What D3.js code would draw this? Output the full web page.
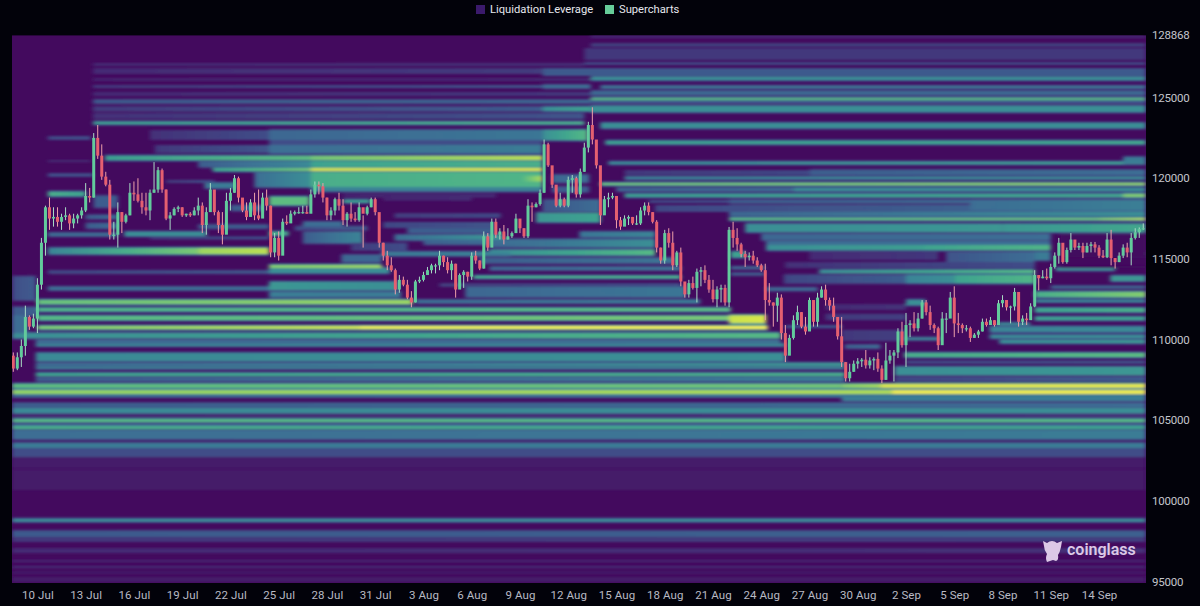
<!DOCTYPE html>
<html><head><meta charset="utf-8">
<script src="https://cdn.jsdelivr.net/npm/d3@7/dist/d3.min.js"></script>
<style>html,body{margin:0;padding:0;background:#02020a;overflow:hidden}svg{display:block}text{font-family:"Roboto","Noto Sans",sans-serif}</style>
</head><body><svg id="c" width="1200" height="606"></svg>
<script>
const legendLabels = ["Liquidation Leverage","Supercharts"];
const priceTicks = [95,100,105,110,115,120,125,128.868];
const dateTicks = [0,3,6,9,12,15,18,21,24,27,30,33,36,39,42,45,48,51,54,57,60,63,66];
const levelStops = ["#430a5e","#452a74","#404d88","#3c6e94","#3a8a96","#3ea38f","#56b985","#7bc973","#a4d85c","#d2e34b","#f4ec54"];

// bands: [top price k, bottom price k, start day, end day (days from 10 Jul), level at start, level at end]
const topBands = [
[128.85,128.7,34.4,68.9,.1,.1],[128.38,128.14,34.4,68.9,.15,.15],[128.07,127.33,34,68.9,.14,.14],[127.21,127.02,34,68.9,.18,.18],
[127.14,126.96,3.46,34,.1,.12],[126.83,126.46,3.46,31.4,.1,.15],[126.83,126.34,31.4,68.9,.24,.24],
[126.21,126.03,3.46,34.4,.08,.1],[126.28,126.09,34.4,68.9,.42,.42],[125.78,125.59,3.46,31.4,.14,.22],[125.78,125.59,31.4,34.4,.3,.3],[125.72,125.59,35,68.9,.34,.34],
[125.35,125.1,3.46,34.4,.1,.14],[125.41,125.16,34.4,68.9,.28,.28],[124.97,124.85,34.4,68.9,.62,.62],[124.85,124.66,3.46,34.4,.24,.28],[124.85,124.66,34.4,68.9,.25,.25],
[124.42,124.17,3.46,31.4,.15,.25],[124.42,124.17,31.4,34.4,.42,.5],[124.48,124.11,34.4,68.9,.42,.42],[124.04,123.67,3.46,34,.12,.22],
[123.49,123.36,3.46,34,.5,.58],[123.42,123.11,35,68.9,.42,.42],[122.31,122.12,35.3,68.9,.48,.52],[121.01,120.88,35.5,68.9,.42,.5],
[120.51,120.2,36.5,48,.14,.18],[120.51,120.2,48,68.9,.25,.3],[120.08,119.95,36.5,68.9,.38,.42],[119.7,119.58,35,68.9,.68,.78],[119.39,119.21,36,47,.28,.3],[119.39,119.21,47,68.9,.42,.42],[119.02,118.84,36.5,68.9,.48,.52],
[118.65,118.46,38,43,.18,.2],[118.65,118.46,43,68.9,.25,.3],[118.34,117.91,38.4,43,.18,.2],[118.34,117.91,43,68.9,.2,.3],
[121.3,120.9,67.5,68.9,.35,.35],[119.02,118.84,67.5,68.9,.72,.72],[118.65,118.03,58,68.9,.3,.36]
];
const leftBlockBands = [
[122.99,122.37,7,14.4,.12,.2],[122.99,122.37,14.4,31.4,.28,.33],[122.99,122.37,31.4,34.2,.42,.6],
[122.37,122.06,14.4,31.4,.2,.2],[122.06,121.56,7.3,14.4,.14,.22],[122.06,121.56,14.4,31.4,.3,.35],[121.56,121.38,14.4,31.4,.18,.2],
[121.38,121.13,4.2,17,.48,.62],[121.38,121.13,17,31.4,.68,.85],
[121.07,120.7,10,17,.25,.4],[121.07,120.7,17,31.4,.5,.55],
[120.63,120.45,10.9,17,.5,.68],[120.63,120.45,17,31.4,.9,.92],
[120.39,119.46,13.5,17,.3,.42],[120.39,119.46,17,31.4,.55,.58],[120.14,119.8,30.2,31.4,.6,.82],
[119.46,119.2,17,31.4,.38,.38],[119.05,118.8,19,28.5,.08,.1],
[122.62,122.37,.65,3.3,.18,.2],[121.13,121,.65,3.3,.1,.1],[120.32,120.08,.65,3.46,.2,.2],[119.15,118.9,.65,3,.55,.5],
[116.6,116.42,.65,5,.3,.3],[116.67,116.42,5.4,10.5,.42,.42],
[115.67,115.3,.65,10,.38,.7],[115.67,115.3,10,14.4,.78,.85],[114.25,114.12,.65,14.4,.2,.25],[113.26,113.07,.65,14.4,.3,.3],
[118.9,118.2,3.5,5,.25,.25],[117.7,117.5,3,5,.25,.3],[117.2,116.9,3,5,.25,.3],[116.4,116.2,7,14.4,.15,.2],[119.9,119.7,8,11,.14,.2],[117.1,116.9,10,14.4,.25,.25],[118.3,118,12,14,.25,.25],[119.7,119.39,10.4,12.3,.35,.35]
];
const midBands = [
[114.62,114.43,14.4,21.4,.72,.78],[114.43,114.12,14.4,21.9,.42,.42],[113.57,113.07,14.4,22.4,.45,.42],[112.95,112.64,14.4,22.6,.36,.35],
[118.84,118.34,14.4,16.9,.62,.62],[116.67,116.48,14.4,15.6,.55,.55],[116.3,116.1,19,20.2,.55,.55],[118.65,118.5,19,20.7,.5,.5],
[117.29,116.91,16.5,19,.3,.3],[116.67,115.98,16.5,20.2,.25,.38],[115.24,114.81,18.9,21.4,.28,.28],
[112.45,112.2,0,23.3,.65,.78],[111.95,111.76,0,43.1,.58,.62],[111.46,111.21,0,43,.6,.7],[111.5,111.02,43,45.3,.88,.92],
[110.84,110.65,0,20,.7,.9],[110.84,110.65,20,45.4,.97,1],[110.4,110.09,-1.58,46.2,.42,.6],[109.97,109.75,-.1,46.2,.3,.32],
[113.9,112.45,-1.58,-.1,.2,.25],[111.7,110.4,-1.58,-.6,.3,.3],[112,111.5,-1.58,0,.25,.25],
[116.67,116.36,33.7,38.4,.33,.38],[116.2,115.74,28.1,38.4,.28,.42],[115.55,115.24,28.1,38.4,.42,.6],[115.05,114.74,27.5,39.6,.25,.32],[114.5,114.31,28.1,40,.28,.32],
[113.94,113.81,27.1,40,.55,.58],[113.5,113.26,25,40,.15,.2],[113.26,112.64,26.6,40.3,.28,.33],[112.45,112.26,23.5,41.2,.3,.35],
[117.84,117.29,31,35,.45,.5],[118.65,117.91,31.4,35,.22,.3],[120.2,119.75,32,34.3,.28,.3],[119.46,119.15,32,34.3,.25,.25],
[117.84,117.53,22.2,28.8,.15,.18],[117.29,116.91,21.5,28.4,.18,.22],[116.91,116.6,23,28.4,.25,.25],[116.48,116.17,22.2,29,.3,.45],[116.2,115.9,24,30.6,.26,.32],[115.43,115.2,21.4,29.4,.35,.38],[117,116.8,16,20.5,.2,.25],[116,115.5,19.5,23,.15,.2],[118.9,118.6,21.5,27,.08,.1]
];
const rightBands = [
[117.91,117.66,43,68.9,.28,.42],[117.53,117.41,43,66,.62,.68],[117.53,117.41,66,68.9,.72,.85],[117.16,116.67,44,60,.42,.45],[117.16,116.67,60,68.9,.45,.52],
[116.55,116.17,45,63,.28,.3],[116.11,115.86,45.3,63,.3,.3],[115.86,115.55,45.3,55,.42,.48],[115.86,115.55,55,63,.5,.58],[115.43,114.93,48,56,.1,.14],[115.43,114.62,56.5,62,.22,.3],[115.43,114.93,62,63,.35,.35],[114.81,114.43,46.5,62,.12,.2],
[114.31,114.12,48.6,62,.42,.6],[114,113.5,46.4,54,.18,.25],[114,113.5,54,57,.38,.42],[114,113.5,57,62,.5,.58],[113.2,113.05,45.3,48.5,.3,.3],
[112.95,112.64,62,68.9,.55,.72],[112.45,112.33,62,68.9,.4,.4],[111.95,111.71,62,68.9,.5,.55],[111.4,111.21,62,68.9,.5,.5],
[110.8,110.47,59.2,68.9,.38,.4],[110.28,110.09,59.2,68.9,.4,.42],[109.97,109.78,59.8,68.9,.42,.45],
[114.43,114.3,63.3,67,.45,.45],[113.94,113.63,66.7,68.9,.45,.45],[115.43,115.2,67.9,68.9,.45,.45],[113.3,113.2,63,68.9,.3,.3],
[115.43,115.1,43.1,44,.5,.5],[114.5,114.4,43.1,45.2,.3,.3],[114.12,114,43.1,45.2,.25,.25],
[112.45,112.14,54,55.2,.42,.42],[110.1,110,54,56.1,.42,.42],[111.02,110.9,59.7,61.7,.42,.42],[112.2,111.83,49,54,.1,.12],[111.6,111.2,49,54,.14,.16],[110.9,110.7,46.5,50,.2,.22],[110.6,109.9,50,54,.14,.16],[109.66,109.47,50.2,52.4,.26,.3]
];
const lowerBands = [
[109.72,109.6,-.1,46.5,.4,.42],[109.16,108.67,-.1,46.5,.4,.42],[108.54,108.36,-.1,50.2,.3,.45],[108.3,108.2,-.1,50.2,.4,.42],[107.92,107.74,-.1,50.2,.5,.55],[107.68,107.43,-.1,50.2,.25,.35],
[109.16,108.92,53.9,68.9,.55,.62],[108.7,108.5,54,68.9,.2,.22],[108.3,107.8,53.3,68.9,.42,.45],[107.68,107.43,53.3,68.9,.18,.25],
[107.24,107,-1.58,50,.62,.68],[107.24,107,50,52.4,.72,.8],[107.24,107,52.4,68.9,.92,.96],[107,106.87,-1.58,68.9,.35,.4],
[106.87,106.62,-1.58,53.1,.75,.82],[106.87,106.62,53.1,68.9,.97,.97],[106.62,106.44,-1.58,68.9,.3,.35],[106.44,106.19,50,68.9,.35,.35],
[106.06,105.81,-1.58,68.9,.25,.3],[105.75,105.44,-1.58,68.9,.4,.42],[105.38,105.2,-1.58,68.9,.08,.12],[105.07,104.89,-1.58,68.9,.6,.6],
[104.76,104.64,-1.58,68.9,.3,.3],[104.64,104.45,-1.58,68.9,.55,.5],[104.39,103.83,-1.58,68.9,.3,.35],[103.58,103.27,-1.58,68.9,.35,.35],
[103.27,102.72,-1.58,68.9,.2,.2],[102.72,102.03,-1.58,68.9,.06,.06],[101.97,100.67,-1.58,68.9,.05,.05],[98.87,98.72,-1.58,68.9,.42,.42],
[98.13,97.76,-1.58,68.9,.24,.26],[97.69,97.45,-1.58,68.9,.14,.16],[97.07,96.76,-1.58,68.9,.1,.12],[96.33,96.21,-1.58,68.9,.1,.1],
[95.96,95.83,-1.58,68.9,.1,.1],[95.59,95.52,-1.58,68.9,.1,.1],[95.28,94.97,-1.58,68.9,.05,.05]
];

// six-hour candles: [high, low, close] in thousand USD; each opens at the previous close
const firstOpen = 109.0;
const julyCandles = [
[109.2,108,108.2],[109.2,108.1,108.9],[110,108.3,109.6],[112.1,109,111.4],[111.5,110.6,110.8],[111.6,110.7,111.3],[113.8,110.4,113.4],[116.3,113.1,116],[118.3,115.2,118.2],
[118.8,116.8,117.5],[118.2,117,117.6],[118.2,117,117.3],[117.8,116.8,117.6],[118.2,117.4,117.7],[117.8,116.8,117.2],[117.8,116.9,117.5],[117.8,117.2,117.7],[118.2,117.5,118],
[119.7,117.9,118.9],[119.4,118.5,118.8],[122.8,118.8,122.5],[123.3,121.2,121.4],[122.1,119.9,120.1],[120.4,119.5,119.6],[119.9,116.2,116.5],[117.3,116.2,116.5],[118.5,115.7,117.9],
[117.9,116.6,117.3],[117.8,117.2,117.7],[119.7,117.7,119.1],[119.8,118.6,119],[120,118.5,118.6],[119.1,117.8,118.2],[119.1,117.7,118],[119.3,117.4,119.1],[121,119.1,119.3],
[120.7,119.1,120.5],[120.6,119.1,119.3],[119.3,117.4,117.5],[117.9,116.8,117.7],[118.2,117.7,118.1],[118.3,117.9,118.2],[118.2,117.6,117.7],[117.8,117.6,117.8],[117.9,117.6,117.7],
[118.2,117.7,118],[118.8,117.7,118.3],[118.5,116.6,117.1],[118.2,116.5,117.9],[119.7,118,119.3],[119.1,117.7,117.9],[118,116.6,117.1],[117.9,115.9,116.5],[119.1,117.2,118.6],
[119.4,118,119.1],[120.2,119.1,120],[120.1,118.5,118.8],[118.7,117.9,118],[118.5,117.4,117.6],[118.7,117.8,118.5],[119.1,117.4,117.7],[119.3,117.4,117.5],[119.1,117.8,118.8],
[119.3,118,118.3],[118.3,115.1,115.4],[116.6,115.1,116.3],[116.7,114.9,115.2],[117.5,116,117.3],[117.7,117.1,117.2],[118,117.3,117.8],[118,117.7,117.9],[118.2,117.8,117.9],
[118.3,117.8,117.9],[118.3,117.8,117.8],[119.3,117.9,119],[119.8,118.8,119.6],[119.8,119,119.5],[119.7,118.5,118.8],[118.8,117.4,117.7],[118.2,117.4,118],[118.8,117.7,118.7],
[119.1,118,118.3],[118.7,117.1,117.4],[117.9,117,117.8],[118.5,117.3,117.5],[117.9,117.3,117.4],[118.5,117.3,118.2],[117.7,115.7,117.8],[118.3,117.7,118.2],[118.8,118.2,118.7],
[118.8,117.7,117.9],[117.8,115.7,116],[116,114.9,115.2],[115.5,114.3,114.6],[115.1,114.2,114.3],[114.4,112.8,113.1],[114,112.9,113.7]
];
const augustCandles = [
[113.9,113.3,113.4],[113.7,112.5,112.6],[113,112,112.3],[113.7,112.3,113.6],[113.9,113.5,113.7],[114.2,113.6,114],[114.5,114,114.3],[114.7,114.1,114.6],[114.7,114.1,114.6],
[115.5,114.3,115.2],[115.2,114.5,114.8],[115.1,114.1,114.3],[114.9,113.7,114.7],[114.7,112.6,113.1],[114.1,113.2,114],[114.3,113.2,114.2],[114.2,113.6,113.9],[115.4,113.7,115.2],
[115.5,114.7,114.9],[114.9,114.3,114.4],[116.7,114.4,116.4],[116.6,115.5,115.7],[117.5,116.2,117.3],[117.5,116.3,116.5],[116.9,116.2,116.7],[117.1,115.9,116.2],[116.9,116.2,116.4],
[116.7,116.3,116.6],[117.8,116.6,117.5],[117.1,116.6,116.9],[116.9,116.3,116.4],[118.7,116.3,118.3],[118.5,117.3,118.2],[118.5,118.2,118.4],[119.3,118.3,119.1],[122.4,119.1,122.1],
[122.2,120.7,120.8],[120.6,119.4,119.6],[119.5,118.2,118.3],[119.1,118.2,118.7],[118.8,118.2,118.3],[120.1,118.2,119.9],[120.2,119.1,120],[120.1,118.8,119],[120.6,118.8,120.4],
[122.2,120.4,121.9],[123.5,121.6,123.3],[124.4,122.1,122.4],[122.2,120.6,120.8],[120.4,117.1,117.7],[118.9,117.8,118.7],[119.1,118.2,118.8],[119.1,118.7,118.9],[118.9,116.9,117.4],
[117.6,116.8,117],[117.7,117.1,117.5],[117.7,117.1,117.6],[117.6,117.1,117.2],[117.7,117.1,117.2],[118.2,117.1,118],[118.5,117.7,118.3],[118.5,117.7,117.9],[117.9,117.2,117.3],
[117.4,115.4,115.7],[115.7,114.7,114.9],[116.8,114.7,116.6],[116.9,115.7,116],[116.7,114.3,114.6],[115.5,114.5,115.4],[115.7,113.3,113.6],[113.5,112.6,112.8],[113.7,112.6,113.5],
[113.9,113.1,113.2],[114.4,112.3,114.2],[114.5,113.3,114.3],[114.6,113.5,113.7],[114,112.9,113.1],[113.7,112.3,112.5],[113.3,112,113.1],[113.4,112.3,113.2],[113.4,112.1,112.3],
[116.98,112,116.8],[117.3,115.7,116.3],[116.9,115.5,115.9],[116,115.1,115.3],[115.5,114.5,115.1],[115.4,114.9,115.2],[115.5,114.7,114.9],[115.1,114.5,114.6],[114.7,114.2,114.3],
[114.7,111.2,112.45],[113.5,112.1,112.3],[112.3,110.8,112.1],[112.9,111.1,112.6],[112.8,110,110.4],[110.9,108.6,109],[110.3,109.35,110.1],[111.5,110,111.2],[112.1,110.9,111.7],
[111.7,110.7,110.8],[111.4,110.3,110.5],[112.6,110.9,112.45],[112.3,110.8,111.1],[112.9,110.8,112.6],[113.3,112.6,113.1],[113.4,112.1,112.45],[112.6,111.8,112.1],[112.6,111.1,111.4],
[111.3,110,110.2],[111.4,108.3,108.6],[108.6,107.4,107.6],[108.5,107.4,108],[108.7,108,108.5],[108.85,108.2,108.65]
];
const septemberCandles = [
[108.85,108.3,108.75],[109.35,108.2,108.4],[108.9,108.2,108.7],[108.9,108.1,108.8],[109.2,108,108.2],[108.4,107.3,107.5],[109.8,107.5,108.7],[109.35,108.5,109],[109.35,107.4,109.2],
[110.7,108.85,110.5],[111.1,109.5,109.65],[111.65,108.3,110.9],[111.2,110.15,111],[111.7,110.5,110.7],[111.65,110.5,111.3],[112.45,111.3,112.3],[112.45,111.5,111.7],[112.1,110.6,110.9],
[111,110.4,110.7],[110.8,109.35,109.65],[111.7,109.8,111.3],[111.65,110.4,111.3],[112.95,111.4,112.6],[113.3,110.15,111],[111.65,110.4,110.9],[111,110.4,110.7],[110.9,110.5,110.7],
[110.8,109.85,110.1],[110.4,110.1,110.3],[110.6,110.1,110.5],[111.3,110.5,111.1],[111.3,110.8,110.9],[111.4,110.9,111.2],[111.2,110.8,110.9],[112.45,110.9,112.25],[112.75,112,112.45],
[112.25,111.8,112],[112.1,111,112.05],[113.2,111.8,112.95],[112.9,110.8,111.1],[111.5,110.9,111.3],[111.65,110.9,111.2],[112.25,111.4,112.05],[114.3,112,114],[114,113.05,113.8],
[114.3,113.8,113.9],[114.4,113.7,113.8],[114.7,113.5,114.5],[115.4,114.4,115.2],[116.3,114.7,116],[115.7,114.7,114.8],[115.7,114.7,115.55],[116.6,115.4,116.2],[116.05,115.55,115.7],
[116,115.55,115.8],[116,115.05,115.4],[116,115.4,115.8],[116.05,115.4,115.9],[116.05,115.4,115.7],[115.85,115.05,115.2],[115.55,115.05,115.1],[116.6,115.05,116.2],[116.8,114.6,115.05],
[115.05,114.4,114.8],[115.4,114.8,115.2],[115.9,115.05,115.7],[116,115.1,115.4],[116.6,114.6,116.3],[116.9,116.2,116.65],[116.95,116.3,116.85],[117.2,116.8,116.9]
];
// dark zones the price has cleared on the right: [top k, bottom k, start day, end day]
const clearedZones = [[116.55,115.1,63.6,68.9],[114.6,114.43,63.6,68.9]];

const candleStartDay = -1.5, candleStepDays = 0.25;
const toDate = d => new Date(Date.UTC(2025,6,10) + d*864e5);
const svg = d3.select("#c");
const x = d3.scaleUtc().domain([toDate(-1.58),toDate(68.92)]).range([12,1146]);
const y = d3.scaleLinear().domain([94.9,128.868]).range([583.1,35.2]);
const level = d3.scaleLinear().domain(d3.range(0,1.01,.1)).range(levelStops).interpolate(d3.interpolateRgb).clamp(true);

const defs = svg.append("defs");
const f = defs.append("filter").attr("id","soft").attr("filterUnits","userSpaceOnUse").attr("x",0).attr("y",20).attr("width",1200).attr("height",580);
f.append("feGaussianBlur").attr("stdDeviation","2 1");
const f2 = defs.append("filter").attr("id","softc").attr("filterUnits","userSpaceOnUse").attr("x",0).attr("y",20).attr("width",1200).attr("height",580);
f2.append("feGaussianBlur").attr("stdDeviation","0.45");
const clip = defs.append("clipPath").attr("id","plot");
clip.append("rect").attr("x",12).attr("y",35.2).attr("width",1134).attr("height",547.9);

const bands = [...topBands,...leftBlockBands,...midBands,...rightBands,...lowerBands]
  .map((b,i)=>({top:b[0],bot:b[1],d0:b[2],d1:b[3],l0:b[4],l1:b[5],id:"g"+i,hid:"h"+i}));
const stops = (d,k)=>[0,.5,1].map(t=>({t,c:level((d.l0+(d.l1-d.l0)*t)*k)}));
const grads = defs.selectAll("linearGradient.m").data(bands).join("linearGradient").attr("class","m").attr("id",d=>d.id);
grads.selectAll("stop").data(d=>stops(d,1)).join("stop").attr("offset",d=>d.t).attr("stop-color",d=>d.c);
const haloGrads = defs.selectAll("linearGradient.h").data(bands).join("linearGradient").attr("class","h").attr("id",d=>d.hid);
haloGrads.selectAll("stop").data(d=>stops(d,.5)).join("stop").attr("offset",d=>d.t).attr("stop-color",d=>d.c);

const plot = svg.append("g").attr("clip-path","url(#plot)");
plot.append("rect").attr("x",12).attr("y",35.2).attr("width",1134).attr("height",547.9).attr("fill",level(0));
const heat = plot.append("g").attr("filter","url(#soft)");
const bandX = d=>x(toDate(d.d0)), bandW = d=>x(toDate(d.d1))-x(toDate(d.d0));
heat.selectAll("rect.halo").data(bands.filter(d=>Math.max(d.l0,d.l1)>=.25)).join("rect").attr("class","halo")
  .attr("x",bandX).attr("width",bandW).attr("y",d=>y(d.top)-1.5).attr("height",d=>y(d.bot)-y(d.top)+3).attr("fill",d=>`url(#${d.hid})`);
heat.selectAll("rect.band").data(bands).join("rect").attr("class","band")
  .attr("x",bandX).attr("width",bandW).attr("y",d=>y(d.top)).attr("height",d=>y(d.bot)-y(d.top)).attr("fill",d=>`url(#${d.id})`);
heat.selectAll("rect.clear").data(clearedZones).join("rect").attr("class","clear")
  .attr("x",d=>x(toDate(d[2]))).attr("width",d=>x(toDate(d[3]))-x(toDate(d[2])))
  .attr("y",d=>y(d[0])).attr("height",d=>y(d[1])-y(d[0])).attr("fill",level(0));

const rows = [...julyCandles,...augustCandles,...septemberCandles];
const candles = rows.map((r,i)=>({i,h:r[0],l:r[1],c:r[2],o:i?rows[i-1][2]:firstOpen,t:toDate(candleStartDay+i*candleStepDays)}));
const up = "#62cb9c", down = "#e55f70";
const cg = plot.append("g").attr("filter","url(#softc)");
cg.selectAll("line").data(candles).join("line")
  .attr("x1",d=>x(d.t)).attr("x2",d=>x(d.t)).attr("y1",d=>y(d.h)).attr("y2",d=>y(d.l))
  .attr("stroke",d=>d.c>=d.o?"#a9dcc6":"#eea0aa").attr("stroke-width",1);
cg.selectAll("rect").data(candles).join("rect")
  .attr("x",d=>x(d.t)-1.5).attr("width",3)
  .attr("y",d=>y(Math.max(d.o,d.c))).attr("height",d=>Math.max(1.2,Math.abs(y(d.o)-y(d.c))))
  .attr("fill",d=>d.c>=d.o?up:down);

// axes
const yAxis = d3.axisRight(y).tickValues(priceTicks).tickSize(0).tickPadding(6).tickFormat(d=>String(Math.round(d*1000)));
const ya = svg.append("g").attr("transform","translate(1146,0)").call(yAxis);
ya.select(".domain").remove();
ya.selectAll("text").attr("fill","#c4c5cc").attr("font-size",11.5).attr("letter-spacing","-0.2px").attr("font-family","Roboto");
const xAxis = d3.axisBottom(x).tickValues(dateTicks.map(toDate)).tickSize(0).tickPadding(8).tickFormat(d3.utcFormat("%-d %b"));
const xa = svg.append("g").attr("transform","translate(0,583)").call(xAxis);
xa.select(".domain").remove();
xa.selectAll("text").attr("fill","#b9bac4").attr("font-size",11.5).attr("letter-spacing","0.1px").attr("font-family","Roboto");

// legend
const legendX = [476,605], legendColors = ["#3b1a6c","#66cc99"], legendTextX = [490,619];
const lg = svg.append("g").selectAll("g").data(legendLabels).join("g");
lg.append("rect").attr("x",(d,i)=>legendX[i]).attr("y",5).attr("width",9).attr("height",9).attr("fill",(d,i)=>legendColors[i]);
lg.append("text").attr("x",(d,i)=>legendTextX[i]).attr("y",13.2).attr("font-size",11.2).attr("fill","#e6e7ee").text(d=>d);

// watermark
const wm = svg.append("g");
wm.append("path").attr("fill","#dcc8e6").attr("d","M1043 541 L1047 543 Q1052 539 1057 543 L1062 541 L1061 547 Q1060 552 1058 555 Q1059 560 1056 561 L1053 560 L1050 561 L1047 562 Q1045 558 1047 554 Q1044 550 1044 546 Z");
wm.append("text").attr("x",1067).attr("y",555).attr("font-size",16).attr("font-weight",600).attr("fill","#dcc8e6").attr("font-family","Roboto").text("coinglass");
</script></body></html>
